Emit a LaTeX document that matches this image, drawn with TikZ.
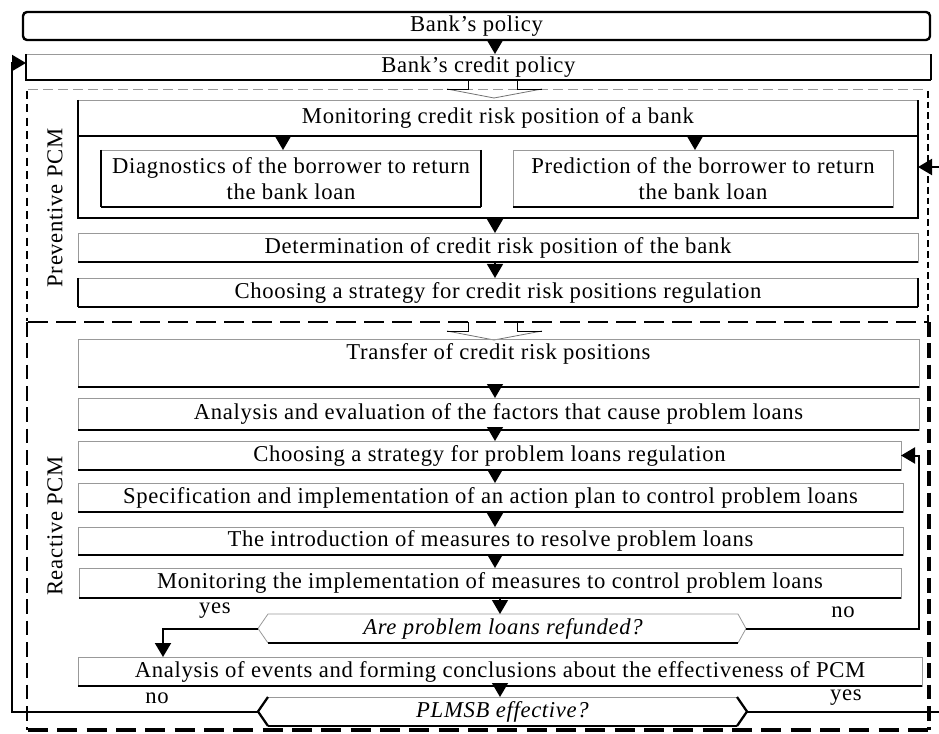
\documentclass[tikz,border=0pt]{standalone}
\usepackage{fontspec}
\setmainfont{Liberation Serif}[LetterSpace=3]
\usetikzlibrary{arrows.meta,fit,calc}
\tikzset{
 bx/.style={inner sep=0pt, outer sep=0pt},
 gl/.style={draw=black!40, line width=0.6pt},
 bl/.style={draw=black, line width=1pt},
 tl/.style={draw=black, line width=1.7pt},
 arr/.style={-{Triangle[length=10.5pt,width=12pt]}, line width=1pt},
 fb/.style={line width=1.5pt, -{Triangle[length=10.5pt,width=12pt]}},
 lbl/.style={inner sep=0pt, align=center},
}
\newcommand\plainbox[1]{\draw[gl] (#1.north west) rectangle (#1.south east);
  \draw[bl] (#1.south west) -- (#1.south east);}
\newcommand\hollowarr[1]{%
 \draw[draw=black!55, line width=0.6pt] ($(#1)+(-47,-9)$) -- (#1) -- ($(#1)+(48,-9)$);
 \draw[draw=black, line width=0.7pt] ($(#1)+(-26,-18)$) -- ($(#1)+(-26,-9)$) -- ($(#1)+(-47,-9)$);
 \draw[draw=black, line width=0.7pt] ($(#1)+(23,-18)$) -- ($(#1)+(23,-9)$) -- ($(#1)+(48,-9)$);}
\begin{document}
\begin{tikzpicture}[x=0.75pt,y=-0.75pt,font=\fontsize{17}{19.5}\selectfont]
\useasboundingbox (0,0) rectangle (939,734);

% helper coordinates for connector columns
\coordinate (ax) at (495,0);
\coordinate (bx2) at (500,0);
\coordinate (dx) at (283,0);
\coordinate (px) at (695,0);
\coordinate (yx) at (163,0);
\coordinate (nx) at (919,0);
\coordinate (lx) at (12,63);
\coordinate (fbR) at (941,167);

% ---- top ----
\node[bx, fit={(23,12) (930,40)}] (bp) {};
\node[lbl] (bpt) at (bp.center) {Bank's policy};
\draw[line width=1.8pt, rounded corners=3pt] (bp.north west) rectangle (bp.south east);

\node[bx, fit={(26,54) (931,80)}] (cp) {};
\node[lbl] (cpt) at (cp.center) {Bank's credit policy};
\draw[gl] (cp.north west) -- (cp.north east);
\draw[bl] (cp.north west) -- (cp.south west) -- (cp.south east);
\draw[tl] (cp.south east) -- (cp.north east);
\draw[arr] (bp.south -| ax) -- (cp.north -| ax);

% ---- preventive region ----
\draw[black!40, line width=0.6pt, dash pattern=on 7.5pt off 3.75pt] (28,89) -- (928,89);
\draw[line width=1.4pt, dash pattern=on 6pt off 4pt] (27,91) -- (27,321);
\draw[line width=1.5pt, dash pattern=on 5pt off 3pt] (928,91) -- (928,321);
\node[lbl, rotate=90] (prevl) at (55,208) {Preventive PCM};

\node[bx, fit={(78,100) (918,218)}] (monc) {};
\node[bx, fit={(78,100) (918,136)}] (mon) {};
\node[lbl] (mont) at (mon.center) {Monitoring credit risk position of a bank};
\draw[gl] (mon.north west) -- (mon.north east);
\draw[bl] (mon.south west) -- (mon.south east);
\draw[tl] (monc.north west) -- (monc.south west) -- (monc.south east) -- (monc.north east);

\coordinate (tip1) at (494,98);
\hollowarr{tip1}

\node[bx, fit={(101,150) (481,207)}] (diag) {};
\node[lbl] (diagt) at (diag.center) {Diagnostics of the borrower to return\\the bank loan};
\draw[gl] (diag.north west) -- (diag.north east);
\draw[tl] (diag.north west) -- (diag.south west);
\draw[tl] (diag.north east) -- (diag.south east);
\draw[bl] (diag.south west) -- (diag.south east);

\node[bx, fit={(513,150) (893,207)}] (pred) {};
\node[lbl] (predt) at (pred.center) {Prediction of the borrower to return\\the bank loan};
\plainbox{pred}

\draw[arr] (mon.south -| dx) -- (diag.north -| dx);
\draw[arr] (mon.south -| px) -- (pred.north -| px);

\node[bx, fit={(78,233) (918,262)}] (det) {};
\node[lbl] (dett) at (det.center) {Determination of credit risk position of the bank};
\plainbox{det}
\draw[arr] (monc.south -| ax) -- (det.north -| ax);

\node[bx, fit={(78,278) (918,307)}] (chcr) {};
\node[lbl] (chcrt) at (chcr.center) {Choosing a strategy for credit risk positions regulation};
\draw[gl] (chcr.north west) -- (chcr.north east);
\draw[tl] (chcr.north west) -- (chcr.south west);
\draw[tl] (chcr.north east) -- (chcr.south east);
\draw[bl] (chcr.south west) -- (chcr.south east);
\draw[arr] (det.south -| ax) -- (chcr.north -| ax);

% ---- reactive region ----
\draw[line width=2.2pt, dash pattern=on 15pt off 6pt] (28,322) -- (929,322);
\draw[line width=1.5pt, dash pattern=on 11pt off 5pt] (27,322) -- (27,730);
\draw[line width=2.4pt, dash pattern=on 11pt off 5pt] (929,322) -- (929,730);
\draw[line width=2.4pt, dash pattern=on 15pt off 7pt] (28,730) -- (929,730);
\node[lbl, rotate=90] (reacl) at (55,526) {Reactive PCM};

\coordinate (tip2) at (494,340);
\hollowarr{tip2}

\node[bx, fit={(78,339) (919,387)}] (tr) {};
\plainbox{tr}
\node[lbl] (trt) at ($(tr.north)+(0,15)$) {Transfer of credit risk positions};

\node[bx, fit={(78,398) (919,430)}] (ae) {};
\node[lbl] (aet) at (ae.center) {Analysis and evaluation of the factors that cause problem loans};
\plainbox{ae}
\node[bx, fit={(78,441) (901,470)}] (cpl) {};
\node[lbl] (cplt) at (cpl.center) {Choosing a strategy for problem loans regulation};
\plainbox{cpl}
\node[bx, fit={(78,483) (903,512)}] (spec) {};
\node[lbl] (spect) at (spec.center) {Specification and implementation of an action plan to control problem loans};
\plainbox{spec}
\node[bx, fit={(78,527) (903,555)}] (intro) {};
\node[lbl] (introt) at (intro.center) {The introduction of measures to resolve problem loans};
\plainbox{intro}
\node[bx, fit={(79,568) (901,598)}] (mi) {};
\node[lbl] (mit) at (mi.center) {Monitoring the implementation of measures to control problem loans};
\plainbox{mi}

\draw[arr] (tr.south -| ax) -- (ae.north -| ax);
\draw[arr] (ae.south -| ax) -- (cpl.north -| ax);
\draw[arr] (cpl.south -| ax) -- (spec.north -| ax);
\draw[arr] (spec.south -| ax) -- (intro.north -| ax);
\draw[arr] (intro.south -| ax) -- (mi.north -| ax);

% decision 1
\node[bx, fit={(268,614) (738,643)}] (are) {};
\node[lbl, font=\fontsize{17}{19.5}\selectfont\itshape] (aret) at (are.center) {Are problem loans refunded?};
\coordinate (areW) at ($(are.west)+(-10,0)$);
\coordinate (areE) at ($(are.east)+(8,0)$);
\draw[gl] (are.south west) -- (areW) -- (are.north west) -- (are.north east) -- (areE) -- (are.south east);
\draw[bl] (are.south west) -- (are.south east);
\draw[arr] (mi.south -| bx2) -- (are.north -| bx2);

\node[bx, fit={(78,657) (922,686)}] (ev) {};
\node[lbl] (evt) at (ev.center) {Analysis of events and forming conclusions about the effectiveness of PCM};
\plainbox{ev}

% decision 2
\node[bx, fit={(268,697) (737,726)}] (plm) {};
\node[lbl, font=\fontsize{17}{19.5}\selectfont\itshape] (plmt) at (plm.center) {PLMSB effective?};
\coordinate (plmW) at ($(plm.west)+(-10,0)$);
\coordinate (plmE) at ($(plm.east)+(10,0)$);
\draw[gl] (plm.north west) -- (plm.north east);
\draw[bl] (plm.south west) -- (plm.south east);
\draw[tl] (plm.north west) -- (plmW) -- (plm.south west);
\draw[tl] (plm.north east) -- (plmE) -- (plm.south east);
\draw[arr] (ev.south -| bx2) -- (plm.north -| bx2);

% feedback connectors
\draw[fb] (areW) -- (areW -| yx) -- (ev.north -| yx);
\node[lbl] (yes1) at (215,611) {yes};
\draw[fb] (areE) -- (areE -| nx) |- (cpl.east);
\node[lbl] (no1) at (843,612) {no};

\draw[fb] (plmW) -- (plmW -| lx) -- (lx) -- (lx -| cp.west);
\node[lbl] (no2) at (157,698) {no};
\draw[fb] (plmE) -- (plmE -| fbR) -- (fbR) -- (fbR -| monc.east);
\node[lbl] (yes2) at (846,698) {yes};

\end{tikzpicture}
\end{document}
